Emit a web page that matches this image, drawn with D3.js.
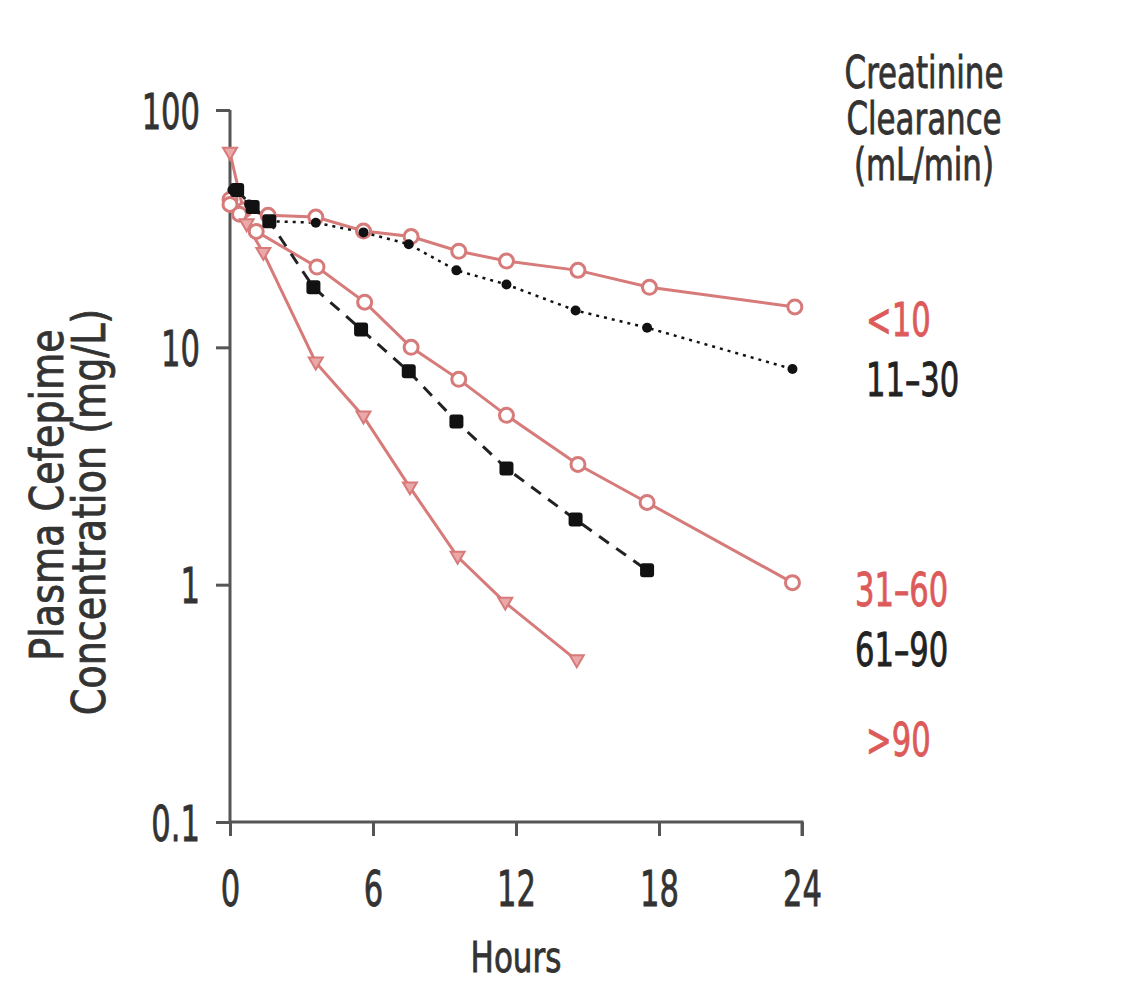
<!DOCTYPE html>
<html><head><meta charset="utf-8">
<script src="https://cdn.jsdelivr.net/npm/d3@7"></script>
<style>
body{margin:0;background:#fff;}
text{font-family:"DejaVu Sans Condensed","DejaVu Sans",sans-serif;font-stretch:condensed;}
</style></head>
<body>
<svg id="chart" width="1130" height="987"></svg>
<script>
// Data (hours, mg/L)
const xTicks = [0, 6, 12, 18, 24];
const yTicks = [0.1, 1, 10, 100];
const yTickLabels = ["0.1", "1", "10", "100"];
const legendTitle = ["Creatinine", "Clearance", "(mL/min)"];

const hoursLt10 = [0, 0.6, 1.6, 3.6, 5.6, 7.6, 9.6, 11.6, 14.6, 17.6, 23.7];
const concLt10 = [42, 38, 36, 35.4, 30.9, 29.3, 25.4, 23.1, 21.1, 17.9, 14.8];

const hours11_30 = [0.1, 0.8, 1.6, 3.6, 5.6, 7.5, 9.5, 11.6, 14.5, 17.5, 23.6];
const conc11_30 = [46, 40, 34, 33.5, 30.5, 27.2, 21.1, 18.4, 14.3, 12.1, 8.1];

const hours31_60 = [0, 0.4, 1.1, 3.65, 5.65, 7.6, 9.6, 11.6, 14.6, 17.5, 23.6];
const conc31_60 = [40, 36.4, 30.8, 21.8, 15.5, 10.0, 7.33, 5.17, 3.21, 2.22, 1.02];

const hours61_90 = [0.3, 0.95, 1.65, 3.5, 5.5, 7.5, 9.5, 11.6, 14.5, 17.5];
const conc61_90 = [46, 39, 34, 17.9, 11.9, 7.92, 4.87, 3.09, 1.88, 1.15];

const hoursGt90 = [0, 0.7, 1.4, 3.6, 5.6, 7.55, 9.55, 11.55, 14.55];
const concGt90 = [66, 33, 25, 8.64, 5.11, 2.57, 1.31, 0.84, 0.48];

const seriesNames = ["<10", "11\u201330", "31\u201360", "61\u201390", ">90"];

const RED = "#d77a7a", REDTXT = "#dd5a5a", BLACK = "#111";
const series = [
  {name: seriesNames[0], h: hoursLt10, c: concLt10, color: RED, dash: null, marker: "circle", width: 3},
  {name: seriesNames[1], h: hours11_30, c: conc11_30, color: BLACK, dash: "3,5", marker: "dot", width: 2.5},
  {name: seriesNames[2], h: hours31_60, c: conc31_60, color: RED, dash: null, marker: "circle", width: 3},
  {name: seriesNames[3], h: hours61_90, c: conc61_90, color: "#222", dash: "12,9", marker: "square", width: 3},
  {name: seriesNames[4], h: hoursGt90, c: concGt90, color: RED, dash: null, marker: "tri", width: 3}
];

const svg = d3.select("#chart");
const x = d3.scaleLinear().domain([0, 24]).range([230, 802]);
const y = d3.scaleLog().domain([0.1, 100]).range([822, 110]);

function condense(sel, f) {
  sel.each(function() {
    const L = this.getComputedTextLength();
    d3.select(this).attr("textLength", L * f).attr("lengthAdjust", "spacingAndGlyphs");
  });
}
function heavy(sel, color) {
  sel.attr("stroke", color).attr("stroke-width", 0.8);
}

// axes
const axisColor = "#555";
const yAxis = svg.append("g").attr("transform", "translate(230,0)")
  .call(d3.axisLeft(y).tickValues(yTicks).tickFormat((d,i) => yTickLabels[i]).tickSize(14).tickPadding(16));
const xAxis = svg.append("g").attr("transform", "translate(0,822)")
  .call(d3.axisBottom(x).tickValues(xTicks).tickSize(14).tickPadding(24));
[xAxis, yAxis].forEach(g => {
  g.select(".domain").attr("stroke", axisColor).attr("stroke-width", 3);
  g.selectAll(".tick line").attr("stroke", axisColor).attr("stroke-width", 3);
  g.selectAll(".tick text").attr("fill", "#333").style("font-size", "50px");
  heavy(g.selectAll(".tick text"), "#333");
});
xAxis.select(".domain").attr("d", "M230,0H802V14");
yAxis.select(".domain").attr("d", "M0,822V110");
yAxis.selectAll(".tick text").attr("dy", "0.36em");
xAxis.selectAll(".tick text").attr("dy", "0.92em");
condense(xAxis.selectAll(".tick text"), 0.68);
condense(yAxis.selectAll(".tick text"), 0.68);

// axis titles
const hx = svg.append("text").attr("x", 516).attr("y", 972).attr("text-anchor", "middle")
  .attr("fill", "#333").style("font-size", "42px").text("Hours");
heavy(hx, "#333"); condense(hx, 0.82);
const yt = svg.append("text").attr("transform", "rotate(-90)")
  .attr("text-anchor", "middle").attr("fill", "#333").style("font-size", "46px");
heavy(yt, "#333");
yt.append("tspan").attr("x", -495).attr("y", 63).text("Plasma Cefepime");
yt.append("tspan").attr("x", -512).attr("y", 105).text("Concentration (mg/L)");
condense(yt.selectAll("tspan"), 0.92);

// lines
const line = d3.line().x(d => x(d[0])).y(d => y(d[1]));
series.forEach(s => {
  const pts = s.h.map((h, i) => [h, s.c[i]]);
  svg.append("path").datum(pts).attr("d", line).attr("fill", "none")
    .attr("stroke", s.color).attr("stroke-width", s.width)
    .attr("stroke-dasharray", s.dash);
});
// markers
series.forEach(s => {
  const pts = s.h.map((h, i) => [h, s.c[i]]);
  const g = svg.append("g");
  pts.forEach(p => {
    const cx = x(p[0]), cy = y(p[1]);
    if (s.marker === "circle") {
      g.append("circle").attr("cx", cx).attr("cy", cy).attr("r", 7)
        .attr("fill", "#fff").attr("stroke", s.color).attr("stroke-width", 3);
    } else if (s.marker === "dot") {
      g.append("circle").attr("cx", cx).attr("cy", cy).attr("r", 5).attr("fill", s.color);
    } else if (s.marker === "square") {
      g.append("rect").attr("x", cx - 7).attr("y", cy - 7).attr("width", 14).attr("height", 14)
        .attr("rx", 3).attr("fill", "#111");
    } else if (s.marker === "tri") {
      g.append("path").attr("d", `M${cx-7},${cy-5}L${cx+7},${cy-5}L${cx},${cy+7}Z`)
        .attr("fill", "#eaa8a8").attr("stroke", s.color).attr("stroke-width", 2);
    }
  });
});

// legend
const lt = svg.append("text").attr("fill", "#333").style("font-size", "44px").attr("text-anchor", "middle");
heavy(lt, "#333");
legendTitle.forEach((t, i) => lt.append("tspan").attr("x", 924).attr("y", 88 + i * 46).text(t));
condense(lt.selectAll("tspan"), 0.78);
const labelPos = [[866, 336, REDTXT], [866, 396, "#222"], [855, 606, REDTXT], [855, 666, "#222"], [866, 756, REDTXT]];
seriesNames.forEach((n, i) => {
  const t = svg.append("text").attr("x", labelPos[i][0]).attr("y", labelPos[i][1])
    .attr("fill", labelPos[i][2]).style("font-size", "46px").text(n);
  heavy(t, labelPos[i][2]);
  condense(t, 0.74);
});
</script>
</body></html>
